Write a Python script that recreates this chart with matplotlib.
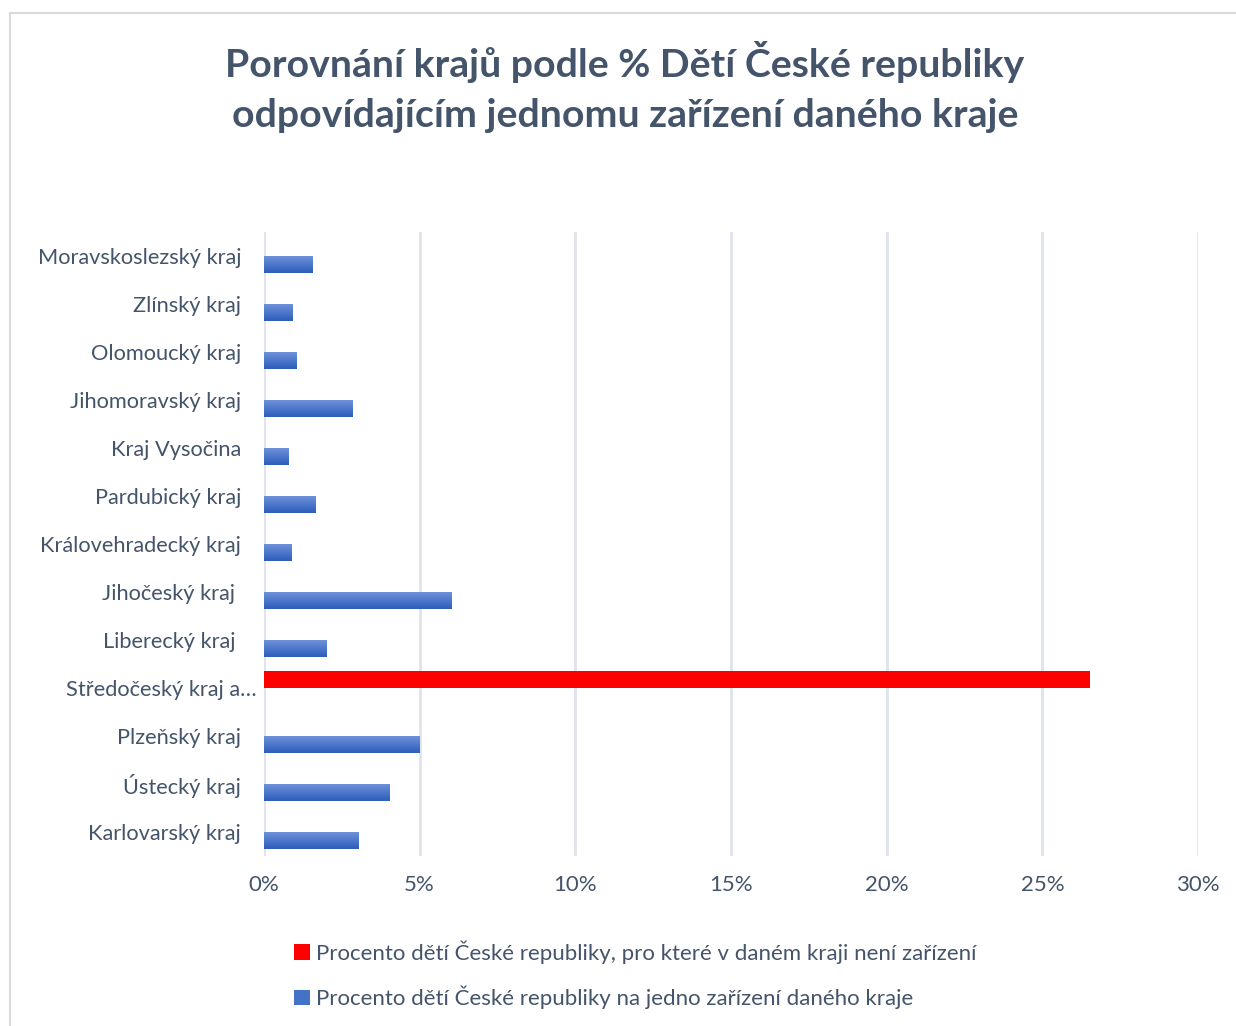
#!/usr/bin/env python3
"""Porovnání krajů - horizontal clustered bars, recreated with matplotlib."""
import numpy as np
import matplotlib
matplotlib.use("Agg")
import matplotlib.pyplot as plt
from matplotlib.lines import Line2D
from matplotlib.colors import LinearSegmentedColormap
from matplotlib.ticker import PercentFormatter

OUTPUT = "out.png"

# top to bottom as in the picture
regions = [
    "Moravskoslezský kraj", "Zlínský kraj", "Olomoucký kraj", "Jihomoravský kraj",
    "Kraj Vysočina", "Pardubický kraj", "Královehradecký kraj", "Jihočeský kraj ",
    "Liberecký kraj ", "Středočeský kraj a…", "Plzeňský kraj", "Ústecký kraj",
    "Karlovarský kraj",
]
# % of children per one facility in the region
per_facility = [1.57, 0.90, 1.03, 2.83, 0.80, 1.64, 0.87, 6.01, 2.02, 0, 5.01, 4.02, 3.02]
# % of children with no facility in the region
no_facility = [0, 0, 0, 0, 0, 0, 0, 0, 0, 26.53, 0, 0, 0]

series_names = [
    "Procento dětí České republiky, pro které v daném kraji není zařízení",
    "Procento dětí České republiky na jedno zařízení daného kraje",
]
title = "Porovnání krajů podle % Dětí České republiky\nodpovídajícím jednomu zařízení daného kraje"
xticks = [0, 5, 10, 15, 20, 25, 30]

TXT = "#44546A"
GRID = "#DFE3EA"
RED = "#FF0000"
BLUE = "#4472C4"
FONT = "Lato"
FS = 16

plt.rcParams["font.family"] = [FONT, "DejaVu Sans"]


def main():
    fig = plt.figure(figsize=(12.36, 10.26), dpi=100)
    W, H = 1236, 1026

    # card border (left + top edge visible)
    fig.add_artist(Line2D([10 / W, 10 / W], [0, 1 - 13 / H], color="#D9D9D9", lw=1.5,
                          transform=fig.transFigure))
    fig.add_artist(Line2D([10 / W, 1], [1 - 13 / H, 1 - 13 / H], color="#D9D9D9", lw=1.5,
                          transform=fig.transFigure))

    ax = fig.add_axes([264 / W, 1 - 856 / H, (1198 - 264) / W, (856 - 232) / H])

    y = np.arange(len(regions))
    h = 0.344
    ax.barh(y - h / 2, no_facility, height=h, color=RED, label=series_names[0], zorder=3)
    blue_bars = ax.barh(y + h / 2, per_facility, height=h, color=BLUE,
                        label=series_names[1], zorder=3)

    # vertical gradient on the blue bars
    cmap = LinearSegmentedColormap.from_list("g", ["#6D92DA", "#2D5DBA"])
    grad = np.linspace(0, 1, 64).reshape(-1, 1)
    for rect in blue_bars:
        if rect.get_width() <= 0:
            continue
        x0, y0 = rect.get_x(), rect.get_y()
        im = ax.imshow(grad, cmap=cmap, aspect="auto", zorder=4,
                       extent=[x0, x0 + rect.get_width(), y0 + rect.get_height(), y0],
                       origin="upper")
        im.set_clip_path(rect)

    ax.set_xlim(0, 30)
    ax.set_ylim(len(regions) - 0.5, -0.5)
    ax.set_xticks(xticks)
    ax.xaxis.set_major_formatter(PercentFormatter(decimals=0))
    ax.grid(axis="x", color=GRID, lw=2, zorder=0)
    ax.set_axisbelow(True)
    for s in ax.spines.values():
        s.set_visible(False)
    ax.tick_params(axis="x", length=0, pad=14, labelsize=FS, labelcolor=TXT)
    ax.tick_params(axis="y", length=0, left=False, labelleft=False)

    # category labels (the truncated one sits closer to the axis, like Excel did)
    for i, name in enumerate(regions):
        off = -7 if name.endswith("…") else -23
        ax.annotate(name, xy=(0, i), xycoords=("axes fraction", "data"),
                    xytext=(off, -2), textcoords="offset pixels",
                    ha="right", va="center", fontsize=15.7, color=TXT)

    fig.text(625 / W, 1 - 87 / H, title, ha="center", va="center", fontsize=28.3,
             fontweight="bold", color=TXT, linespacing=1.55)

    handles, labels = ax.get_legend_handles_labels()
    fig.legend(handles, labels, loc="upper left",
               bbox_to_anchor=(283 / W, 1 - 929 / H), frameon=False,
               fontsize=FS, labelcolor=TXT, handlelength=0.7, handleheight=0.7,
               handletextpad=0.3, labelspacing=1.0, borderpad=0)

    fig.savefig(OUTPUT, dpi=100)
    plt.close(fig)


if __name__ == "__main__":
    main()
